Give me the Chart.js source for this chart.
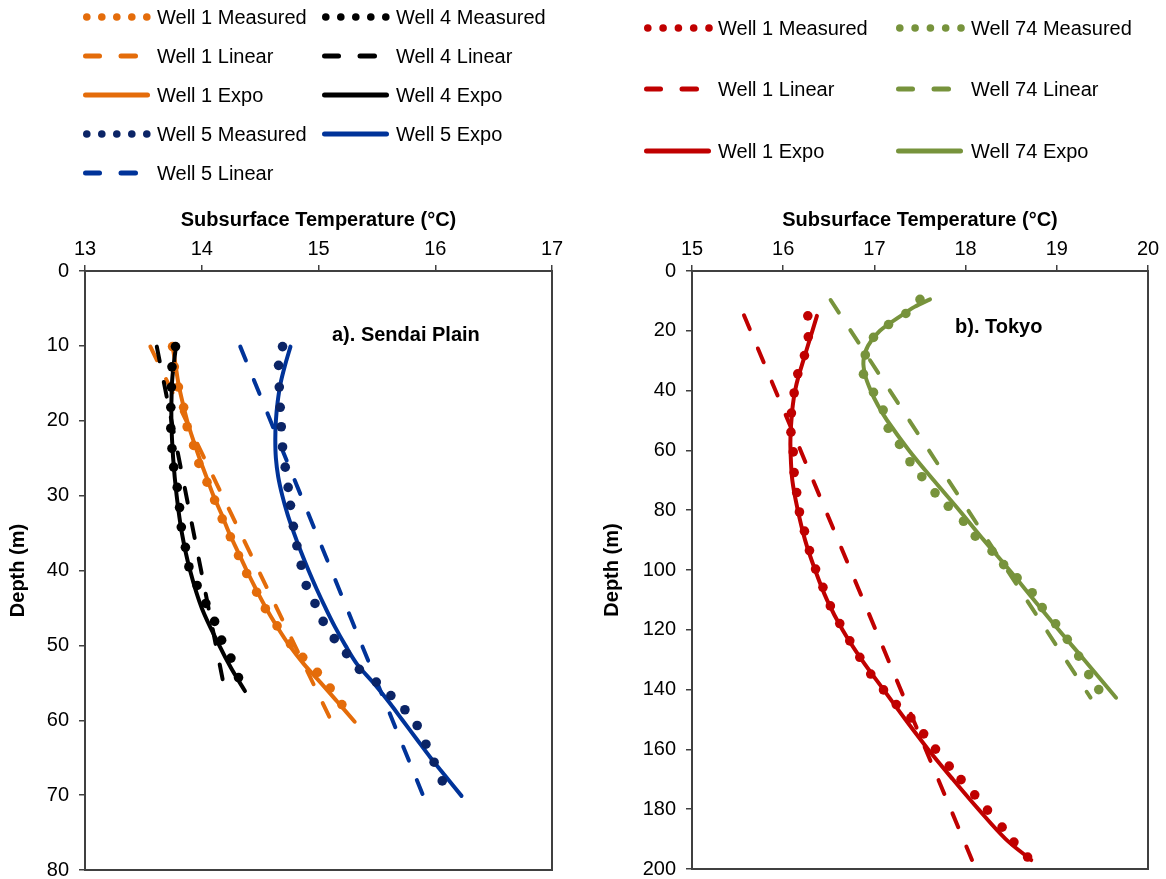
<!DOCTYPE html>
<html>
<head>
<meta charset="utf-8">
<script src="https://cdn.jsdelivr.net/npm/chart.js@4.4.1/dist/chart.umd.min.js"></script>
<style>
  body { margin: 0; background: #fff; width: 1166px; height: 879px; overflow: hidden; position: relative;
         font-family: 'Liberation Sans', Arial, Helvetica, sans-serif; }
  .wrap { position: absolute; top: 0; }
  .lg-text { position: absolute; font-size: 20px; line-height: 24px; color: #000; white-space: nowrap; }
  .lg-swatch { position: absolute; }
  .note { position: absolute; font-size: 20px; font-weight: bold; line-height: 24px; color: #000; white-space: nowrap; }
</style>
</head>
<body>
<!-- canvases run a little past the page bottom so the plot frame reaches the bottom edge like the original -->
<div class="wrap" style="left:0;width:590px;height:892px"><canvas id="sendai"></canvas></div>
<div class="wrap" style="left:590px;width:576px;height:891px"><canvas id="tokyo"></canvas></div>
<div class="note" style="left:332px;top:322px">a). Sendai Plain</div>
<div class="note" style="left:955px;top:314px">b). Tokyo</div>

<script>
// ---- colours ----
const ORANGE = '#E46C0A';
const BLACK = '#000000';
const NAVY = '#0B2466';
const BLUE = '#003399';
const RED = '#C00000';
const GREEN = '#77933C';

// ============ a) Sendai Plain (depth m, temperature °C) ============
const sendaiTempTicks = [13, 14, 15, 16, 17];
const sendaiDepthTicks = [0, 10, 20, 30, 40, 50, 60, 70, 80];

// Well 1
const s1MeasDepth = [10.1, 12.8, 15.5, 18.2, 20.8, 23.3, 25.7, 28.2, 30.6, 33.1, 35.5, 38.0, 40.4, 42.9, 45.1, 47.4, 49.8, 51.6, 53.6, 55.7, 57.9];
const s1MeasTemp  = [13.75, 13.765, 13.80, 13.845, 13.875, 13.93, 13.975, 14.045, 14.11, 14.175, 14.245, 14.315, 14.385, 14.47, 14.545, 14.645, 14.76, 14.865, 14.99, 15.10, 15.20];
const s1LinDepth = [10.1, 60.1];
const s1LinTemp  = [13.56, 15.11];
const s1ExpDepth = [10, 12.5, 15, 17.5, 20, 22.5, 25, 27.5, 30, 32.5, 35, 37.5, 40, 42.5, 45, 47.5, 50, 52.5, 55, 57.5, 60.2];
const s1ExpTemp  = [13.75, 13.775, 13.80, 13.835, 13.875, 13.925, 13.98, 14.04, 14.10, 14.17, 14.235, 14.31, 14.385, 14.465, 14.55, 14.645, 14.75, 14.875, 15.02, 15.16, 15.31];

// Well 4
const s4MeasDepth = [10.1, 12.8, 15.5, 18.2, 21.0, 23.7, 26.2, 28.9, 31.6, 34.2, 36.9, 39.5, 42.0, 44.4, 46.8, 49.3, 51.7, 54.3];
const s4MeasTemp  = [13.775, 13.745, 13.74, 13.735, 13.735, 13.745, 13.76, 13.79, 13.81, 13.825, 13.86, 13.89, 13.96, 14.035, 14.11, 14.17, 14.25, 14.315];
const s4LinDepth = [10.1, 56.2];
const s4LinTemp  = [13.615, 14.20];
const s4ExpDepth = [10, 12.5, 15, 20, 25, 30, 35, 40, 45, 50, 53, 56.1];
const s4ExpTemp  = [13.78, 13.76, 13.745, 13.74, 13.755, 13.785, 13.83, 13.90, 14.00, 14.15, 14.25, 14.37];

// Well 5
const s5MeasDepth = [10.1, 12.6, 15.5, 18.2, 20.8, 23.5, 26.2, 28.9, 31.3, 34.1, 36.7, 39.3, 42.0, 44.4, 46.8, 49.1, 51.1, 53.2, 54.9, 56.7, 58.6, 60.7, 63.2, 65.6, 68.1];
const s5MeasTemp  = [14.692, 14.658, 14.664, 14.672, 14.681, 14.692, 14.715, 14.74, 14.76, 14.785, 14.815, 14.852, 14.895, 14.97, 15.04, 15.135, 15.24, 15.35, 15.495, 15.62, 15.74, 15.845, 15.92, 15.99, 16.06];
const s5LinDepth = [10.1, 70.2];
const s5LinTemp  = [14.33, 15.90];
const s5ExpDepth = [10.1, 12.5, 15, 17.5, 20, 22.5, 25, 27.5, 30, 32.5, 35, 37.5, 40, 42.5, 45, 47.5, 50, 52.5, 55, 57.5, 60, 62.5, 65, 67.5, 70.1];
const s5ExpTemp  = [14.76, 14.715, 14.675, 14.65, 14.635, 14.63, 14.635, 14.655, 14.69, 14.735, 14.79, 14.85, 14.915, 14.985, 15.06, 15.14, 15.23, 15.33, 15.47, 15.60, 15.72, 15.84, 15.96, 16.09, 16.225];

// ============ b) Tokyo ============
const tokyoTempTicks = [15, 16, 17, 18, 19, 20];
const tokyoDepthTicks = [0, 20, 40, 60, 80, 100, 120, 140, 160, 180, 200];

// Well 1
const t1MeasDepth = [15, 22, 28.3, 34.4, 40.8, 47.5, 53.9, 60.5, 67.4, 74.1, 80.6, 87, 93.5, 99.7, 105.8, 112, 117.9, 123.7, 129.2, 134.8, 140.1, 145, 149.5, 154.8, 159.9, 165.6, 170.1, 175.2, 180.3, 186, 191, 196];
const t1MeasTemp  = [16.27, 16.275, 16.233, 16.16, 16.12, 16.09, 16.085, 16.11, 16.12, 16.148, 16.178, 16.233, 16.288, 16.355, 16.436, 16.517, 16.62, 16.73, 16.84, 16.96, 17.10, 17.24, 17.40, 17.54, 17.67, 17.82, 17.95, 18.10, 18.24, 18.40, 18.53, 18.68];
const t1LinDepth = [14.8, 197];
const t1LinTemp  = [15.57, 18.07];
const t1ExpDepth = [15, 20, 25, 30, 35, 40, 45, 50, 55, 60, 70, 80, 90, 100, 110, 120, 130, 140, 150, 160, 170, 180, 190, 197];
const t1ExpTemp  = [16.37, 16.32, 16.27, 16.22, 16.17, 16.13, 16.105, 16.09, 16.08, 16.08, 16.10, 16.16, 16.24, 16.35, 16.48, 16.65, 16.86, 17.10, 17.34, 17.59, 17.86, 18.14, 18.44, 18.72];

// Well 74
const t74MeasDepth = [9.5, 14.2, 17.9, 22.2, 28.1, 34.5, 40.6, 46.5, 52.6, 58.0, 63.8, 68.8, 74.2, 78.7, 83.7, 88.7, 93.7, 98.2, 102.6, 107.6, 112.6, 118, 123.2, 128.8, 135, 140];
const t74MeasTemp  = [17.50, 17.345, 17.155, 16.99, 16.90, 16.88, 16.99, 17.096, 17.151, 17.275, 17.39, 17.52, 17.665, 17.81, 17.977, 18.106, 18.29, 18.417, 18.565, 18.73, 18.84, 18.987, 19.115, 19.24, 19.35, 19.46];
const t74LinDepth = [9.7, 142.7];
const t74LinTemp  = [16.52, 19.37];
const t74ExpDepth = [9.5, 12, 15, 20, 25, 30, 35, 40, 45, 50, 60, 70, 80, 90, 100, 110, 120, 130, 142.7];
const t74ExpTemp  = [17.61, 17.44, 17.29, 17.06, 16.93, 16.88, 16.90, 16.96, 17.04, 17.14, 17.38, 17.65, 17.93, 18.20, 18.48, 18.75, 19.02, 19.30, 19.65];

// --------------------------------------------------------------
const pts = (depths, temps) => depths.map((d, i) => ({ x: temps[i], y: d }));

function measured(label, depths, temps, color) {
    return { label, data: pts(depths, temps), showLine: false, pointRadius: 4.8,
             pointBackgroundColor: color, pointBorderWidth: 0 };
}
function linear(label, depths, temps, color) {
    return { label, data: pts(depths, temps), showLine: true, borderColor: color, borderWidth: 4,
             borderDash: [15, 21], borderCapStyle: 'round', pointRadius: 0 };
}
function expo(label, depths, temps, color) {
    return { label, data: pts(depths, temps), showLine: true, borderColor: color, borderWidth: 4,
             borderCapStyle: 'round', tension: 0.35, pointRadius: 0 };
}

Chart.defaults.font.family = "'Liberation Sans', Arial, Helvetica, sans-serif";
Chart.defaults.font.size = 20;
Chart.defaults.color = '#000';

// box around the plot area
const frame = {
    id: 'frame',
    afterDatasetsDraw(chart) {
        const { ctx, chartArea: a } = chart;
        ctx.save();
        ctx.strokeStyle = '#404040';
        ctx.lineWidth = 2;
        ctx.strokeRect(a.left, a.top, a.right - a.left, a.bottom - a.top);
        ctx.restore();
    }
};

function makeChart(id, datasets, xTicks, yTicks, yAxisWidth, yTitlePad, padRight) {
    const tickGrid = { drawOnChartArea: false, drawTicks: true, tickLength: 6, color: '#404040', lineWidth: 1.5 };
    return new Chart(document.getElementById(id), {
        type: 'scatter',
        data: { datasets },
        options: {
            responsive: true,
            maintainAspectRatio: false,
            animation: false,
            events: [],
            layout: { padding: { top: 190, left: 0, right: padRight, bottom: 0 } },
            plugins: { legend: { display: false }, tooltip: { enabled: false } },
            scales: {
                x: {
                    type: 'linear', position: 'top',
                    min: xTicks[0], max: xTicks[xTicks.length - 1],
                    afterBuildTicks: s => { s.ticks = xTicks.map(v => ({ value: v })); },
                    ticks: { padding: 4, font: { size: 20 } },
                    grid: tickGrid,
                    border: { display: false },
                    title: { display: true, text: 'Subsurface Temperature (°C)',
                             font: { size: 20, weight: 'bold' }, padding: { top: 18, bottom: 0 } },
                    afterFit: s => { s.height = 81; }
                },
                y: {
                    type: 'linear', reverse: true,
                    min: yTicks[0], max: yTicks[yTicks.length - 1],
                    afterBuildTicks: s => { s.ticks = yTicks.map(v => ({ value: v })); },
                    ticks: { padding: 10, font: { size: 20 } },
                    grid: tickGrid,
                    border: { display: false },
                    title: { display: true, text: 'Depth (m)',
                             font: { size: 20, weight: 'bold' }, padding: { top: yTitlePad, bottom: 0 } },
                    afterFit: s => { s.width = yAxisWidth; }
                }
            }
        },
        plugins: [frame]
    });
}

makeChart('sendai', [
    measured('Well 4 Measured', s4MeasDepth, s4MeasTemp, BLACK),
    measured('Well 5 Measured', s5MeasDepth, s5MeasTemp, NAVY),
    measured('Well 1 Measured', s1MeasDepth, s1MeasTemp, ORANGE),
    expo('Well 4 Expo', s4ExpDepth, s4ExpTemp, BLACK),
    linear('Well 4 Linear', s4LinDepth, s4LinTemp, BLACK),
    expo('Well 5 Expo', s5ExpDepth, s5ExpTemp, BLUE),
    linear('Well 5 Linear', s5LinDepth, s5LinTemp, BLUE),
    expo('Well 1 Expo', s1ExpDepth, s1ExpTemp, ORANGE),
    linear('Well 1 Linear', s1LinDepth, s1LinTemp, ORANGE)
], sendaiTempTicks, sendaiDepthTicks, 85, 6, 38);

makeChart('tokyo', [
    measured('Well 1 Measured', t1MeasDepth, t1MeasTemp, RED),
    measured('Well 74 Measured', t74MeasDepth, t74MeasTemp, GREEN),
    expo('Well 1 Expo', t1ExpDepth, t1ExpTemp, RED),
    expo('Well 74 Expo', t74ExpDepth, t74ExpTemp, GREEN),
    linear('Well 1 Linear', t1LinDepth, t1LinTemp, RED),
    linear('Well 74 Linear', t74LinDepth, t74LinTemp, GREEN)
], tokyoTempTicks, tokyoDepthTicks, 102, 10, 18);

// ---- legends (samples drawn on small canvases, labels as text) ----
// [label, colour, kind, sample x, text x, row y, dot spacing]
const legendItems = [
    ['Well 1 Measured', ORANGE, 'dots', 83, 157, 17, 15],
    ['Well 4 Measured', BLACK, 'dots', 322, 396, 17, 15],
    ['Well 1 Linear', ORANGE, 'dash', 83, 157, 56, 15],
    ['Well 4 Linear', BLACK, 'dash', 322, 396, 56, 15],
    ['Well 1 Expo', ORANGE, 'solid', 83, 157, 95, 15],
    ['Well 4 Expo', BLACK, 'solid', 322, 396, 95, 15],
    ['Well 5 Measured', NAVY, 'dots', 83, 157, 134, 15],
    ['Well 5 Expo', BLUE, 'solid', 322, 396, 134, 15],
    ['Well 5 Linear', BLUE, 'dash', 83, 157, 173, 15],
    ['Well 1 Measured', RED, 'dots', 644, 718, 28, 15.3],
    ['Well 74 Measured', GREEN, 'dots', 896, 971, 28, 15.3],
    ['Well 1 Linear', RED, 'dash', 644, 718, 89, 15.3],
    ['Well 74 Linear', GREEN, 'dash', 896, 971, 89, 15.3],
    ['Well 1 Expo', RED, 'solid', 644, 718, 151, 15.3],
    ['Well 74 Expo', GREEN, 'solid', 896, 971, 151, 15.3]
];

legendItems.forEach(([label, color, kind, sx, tx, ry, sp]) => {
    const c = document.createElement('canvas');
    c.width = 76; c.height = 14;
    c.className = 'lg-swatch';
    c.style.left = (sx - 2) + 'px';
    c.style.top = (ry - 7) + 'px';
    document.body.appendChild(c);
    const g = c.getContext('2d');
    g.fillStyle = color; g.strokeStyle = color;
    g.lineWidth = 5; g.lineCap = 'round';
    if (kind === 'dots') {
        for (let k = 0; k < 5; k++) {
            g.beginPath(); g.arc(2 + 3.8 + k * sp, 7, 3.8, 0, Math.PI * 2); g.fill();
        }
    } else if (kind === 'dash') {
        [[4.5, 18.5], [40, 54.5]].forEach(([a, b]) => {
            g.beginPath(); g.moveTo(a, 7); g.lineTo(b, 7); g.stroke();
        });
    } else {
        g.beginPath(); g.moveTo(4.5, 7); g.lineTo(66.5, 7); g.stroke();
    }
    const t = document.createElement('div');
    t.className = 'lg-text';
    t.style.left = tx + 'px';
    t.style.top = (ry - 12) + 'px';
    t.textContent = label;
    document.body.appendChild(t);
});
</script>
</body>
</html>
